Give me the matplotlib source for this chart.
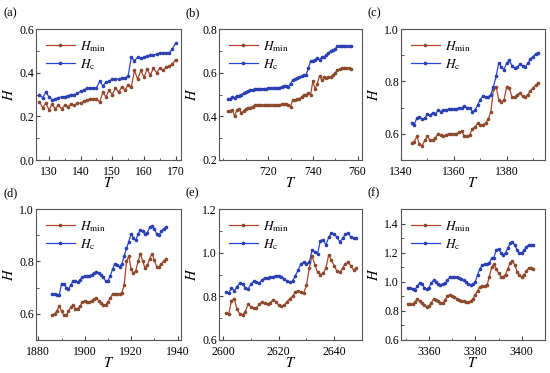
import matplotlib
matplotlib.use("Agg")
import matplotlib.pyplot as plt
from matplotlib.ticker import AutoMinorLocator

plt.rcParams['font.family'] = ['Liberation Serif', 'DejaVu Serif']
plt.rcParams['mathtext.fontset'] = 'stix'

# panel (a)
t_a = list(range(127, 171))
hmin_a = [0.265, 0.24, 0.26, 0.23, 0.255, 0.235, 0.25, 0.235, 0.25, 0.245,
          0.255, 0.25, 0.26, 0.26, 0.27, 0.275, 0.28, 0.28, 0.28, 0.265,
          0.31, 0.29, 0.32, 0.30, 0.33, 0.31, 0.335, 0.32, 0.345, 0.335,
          0.41, 0.37, 0.41, 0.38, 0.415, 0.39, 0.42, 0.40, 0.42, 0.41,
          0.425, 0.43, 0.44, 0.46]
hc_a = [0.30, 0.285, 0.31, 0.29, 0.275, 0.28, 0.285, 0.29, 0.29, 0.295,
        0.30, 0.30, 0.305, 0.315, 0.32, 0.33, 0.33, 0.33, 0.33, 0.36,
        0.34, 0.355, 0.36, 0.37, 0.37, 0.37, 0.375, 0.375, 0.385, 0.47,
        0.455, 0.47, 0.465, 0.47, 0.475, 0.48, 0.48, 0.485, 0.49, 0.49,
        0.49, 0.49, 0.51, 0.535]

# panel (b)
t_b = list(range(702, 758))
hmin_b = [0.425, 0.425, 0.43, 0.40, 0.43, 0.435, 0.415, 0.425, 0.435, 0.44,
          0.44, 0.445, 0.45, 0.45, 0.45, 0.45, 0.45, 0.45, 0.45, 0.45,
          0.45, 0.45, 0.452, 0.452, 0.455, 0.455, 0.455, 0.45, 0.445, 0.475,
          0.475, 0.48, 0.48, 0.49, 0.50, 0.50, 0.505, 0.50, 0.56, 0.525,
          0.55, 0.585, 0.565, 0.58, 0.575, 0.58, 0.58, 0.59, 0.60, 0.61,
          0.615, 0.62, 0.62, 0.62, 0.62, 0.615]
hc_b = [0.48, 0.478, 0.49, 0.485, 0.495, 0.495, 0.50, 0.505, 0.51, 0.515,
        0.52, 0.522, 0.525, 0.527, 0.527, 0.527, 0.527, 0.527, 0.528, 0.528,
        0.53, 0.53, 0.53, 0.532, 0.535, 0.54, 0.54, 0.535, 0.55, 0.565,
        0.57, 0.575, 0.58, 0.585, 0.59, 0.59, 0.62, 0.655, 0.655, 0.66,
        0.665, 0.66, 0.67, 0.67, 0.68, 0.69, 0.70, 0.705, 0.71, 0.72,
        0.72, 0.72, 0.72, 0.72, 0.72, 0.72]

# panel (c)
t_c = list(range(1344, 1393))
hmin_c = [0.565, 0.57, 0.59, 0.56, 0.555, 0.575, 0.59, 0.575, 0.575, 0.585,
          0.60, 0.595, 0.59, 0.595, 0.60, 0.60, 0.60, 0.60, 0.605, 0.61,
          0.59, 0.59, 0.595, 0.62, 0.625, 0.64, 0.635, 0.635, 0.64, 0.655,
          0.685, 0.77, 0.78, 0.73, 0.72, 0.73, 0.78, 0.775, 0.74, 0.74,
          0.75, 0.755, 0.745, 0.74, 0.75, 0.765, 0.775, 0.785, 0.795]
hc_c = [0.64, 0.635, 0.66, 0.665, 0.655, 0.66, 0.675, 0.67, 0.68, 0.675,
        0.69, 0.685, 0.69, 0.69, 0.695, 0.695, 0.695, 0.695, 0.70, 0.70,
        0.705, 0.70, 0.70, 0.685, 0.69, 0.71, 0.73, 0.745, 0.74, 0.74,
        0.75, 0.78, 0.82, 0.87, 0.855, 0.845, 0.87, 0.88, 0.86, 0.85,
        0.855, 0.865, 0.86, 0.855, 0.87, 0.885, 0.895, 0.905, 0.91]

# panel (d)
t_d = list(range(1886, 1936))
hmin_d = [0.595, 0.60, 0.61, 0.63, 0.61, 0.595, 0.595, 0.61, 0.625, 0.635,
          0.62, 0.62, 0.63, 0.645, 0.65, 0.645, 0.645, 0.65, 0.655, 0.66,
          0.65, 0.64, 0.635, 0.635, 0.645, 0.66, 0.675, 0.675, 0.675, 0.675,
          0.68, 0.71, 0.80, 0.82, 0.77, 0.755, 0.765, 0.80, 0.83, 0.80,
          0.775, 0.785, 0.81, 0.83, 0.805, 0.78, 0.78, 0.79, 0.80, 0.81]
hc_d = [0.675, 0.675, 0.67, 0.67, 0.715, 0.715, 0.70, 0.695, 0.71, 0.725,
        0.725, 0.72, 0.73, 0.74, 0.745, 0.745, 0.745, 0.75, 0.755, 0.76,
        0.755, 0.75, 0.74, 0.725, 0.725, 0.745, 0.77, 0.79, 0.785, 0.78,
        0.79, 0.82, 0.85, 0.875, 0.905, 0.89, 0.88, 0.905, 0.92, 0.915,
        0.905, 0.91, 0.93, 0.935, 0.925, 0.905, 0.90, 0.915, 0.925, 0.93]

# panel (e)
t_e = list(range(2601, 2649))
hmin_e = [0.722, 0.72, 0.78, 0.79, 0.74, 0.72, 0.715, 0.73, 0.765, 0.75,
          0.745, 0.745, 0.765, 0.775, 0.77, 0.765, 0.77, 0.785, 0.775, 0.76,
          0.755, 0.76, 0.775, 0.79, 0.80, 0.82, 0.825, 0.82, 0.815, 0.85,
          0.93, 0.985, 0.945, 0.91, 0.90, 0.905, 0.93, 0.99, 0.965, 0.94,
          0.915, 0.91, 0.93, 0.95, 0.955, 0.94, 0.92, 0.93]
hc_e = [0.82, 0.815, 0.84, 0.825, 0.845, 0.86, 0.855, 0.84, 0.835, 0.855,
        0.87, 0.865, 0.86, 0.875, 0.885, 0.885, 0.89, 0.89, 0.895, 0.895,
        0.89, 0.88, 0.87, 0.865, 0.87, 0.895, 0.92, 0.95, 0.955, 0.95,
        0.955, 1.01, 1.005, 0.995, 1.055, 1.06, 1.035, 1.07, 1.09, 1.085,
        1.07, 1.05, 1.065, 1.085, 1.09, 1.07, 1.065, 1.065]

# panel (f)
t_f = list(range(3351, 3406))
hmin_f = [0.847, 0.845, 0.845, 0.86, 0.885, 0.87, 0.855, 0.84, 0.83, 0.835,
          0.855, 0.88, 0.875, 0.865, 0.855, 0.855, 0.875, 0.905, 0.91, 0.905,
          0.895, 0.885, 0.875, 0.87, 0.865, 0.86, 0.86, 0.865, 0.885, 0.91,
          0.94, 0.965, 0.97, 0.97, 0.975, 1.03, 1.10, 1.12, 1.09, 1.06,
          1.035, 1.035, 1.05, 1.09, 1.13, 1.145, 1.115, 1.07, 1.045, 1.035,
          1.05, 1.075, 1.095, 1.095, 1.09]
hc_f = [0.96, 0.955, 0.95, 0.945, 0.97, 0.99, 0.985, 0.96, 0.95, 0.96,
        0.99, 1.01, 1.00, 0.985, 0.98, 0.985, 0.99, 1.01, 1.03, 1.035,
        1.035, 1.03, 1.025, 1.02, 1.01, 1.00, 0.985, 0.98, 0.985, 1.00,
        1.05, 1.09, 1.115, 1.12, 1.12, 1.13, 1.16, 1.165, 1.22, 1.225,
        1.20, 1.185, 1.20, 1.23, 1.265, 1.275, 1.25, 1.22, 1.195, 1.20,
        1.215, 1.24, 1.255, 1.255, 1.25]

panels = [
    ("(a)", t_a, hmin_a, hc_a, (125.9, 171.7), [130, 140, 150, 160, 170], (0.0, 0.6), [0.0, 0.2, 0.4, 0.6]),
    ("(b)", t_b, hmin_b, hc_b, (698, 762), [720, 740, 760], (0.2, 0.8), [0.2, 0.4, 0.6, 0.8]),
    ("(c)", t_c, hmin_c, hc_c, (1340, 1394.5), [1340, 1360, 1380], (0.5, 1.0), [0.6, 0.8, 1.0]),
    ("(d)", t_d, hmin_d, hc_d, (1879, 1941.5), [1880, 1900, 1920, 1940], (0.5, 1.0), [0.6, 0.8, 1.0]),
    ("(e)", t_e, hmin_e, hc_e, (2598.5, 2650), [2600, 2620, 2640], (0.6, 1.2), [0.6, 0.8, 1.0, 1.2]),
    ("(f)", t_f, hmin_f, hc_f, (3348, 3410), [3360, 3380, 3400], (0.6, 1.5), [0.6, 0.8, 1.0, 1.2, 1.4]),
]

W, H = 550, 373
fig = plt.figure(figsize=(W / 100, H / 100), dpi=100)

lefts = [36, 219, 401]
widths = [145, 143, 144]
tops = [29, 209]
ah = 131

for i, (lab, t, hmin, hc, xl, xt, yl, yt) in enumerate(panels):
    row, col = divmod(i, 3)
    x0 = lefts[col] / W
    y0 = 1 - (tops[row] + ah) / H
    ax = fig.add_axes([x0, y0, widths[col] / W, ah / H])
    ax.plot(t, hmin, color='#b0452b', lw=0.9, marker='o', ms=1.6,
            mfc='#8b4a2b', mec='#8b4a2b', label=r'$H_{\mathrm{min}}$')
    ax.plot(t, hc, color='#2a45d8', lw=0.9, marker='o', ms=1.6,
            mfc='#2a3fb0', mec='#2a3fb0', label=r'$H_{\mathrm{c}}$')
    ax.set_xlim(*xl)
    ax.set_ylim(*yl)
    ax.set_xticks(xt)
    ax.set_yticks(yt)
    ax.set_yticklabels(['%.1f' % v for v in yt])
    ax.xaxis.set_minor_locator(AutoMinorLocator(2))
    ax.yaxis.set_minor_locator(AutoMinorLocator(2))
    ax.tick_params(which='both', direction='in', labelsize=8.5, color='#444444')
    ax.tick_params(axis='y', pad=1.5)
    ax.tick_params(axis='x', pad=4)
    ax.tick_params(which='major', length=3)
    ax.tick_params(which='minor', length=1.8)
    for s in ax.spines.values():
        s.set_color('#555555')
        s.set_linewidth(0.8)
    ax.set_xlabel('$T$', fontsize=10.5, labelpad=-1)
    ax.set_ylabel('$H$', fontsize=10.5, labelpad=2)
    ax.legend(loc='upper left', frameon=False, fontsize=9.5, handlelength=2.2,
              handletextpad=0.4, labelspacing=0.25, borderaxespad=0.35)
    fig.text((lefts[col] - 33) / W, 1 - (tops[row] - 16) / H, lab,
             fontsize=9, va='center', ha='left')

fig.savefig('out.png', dpi=100)
